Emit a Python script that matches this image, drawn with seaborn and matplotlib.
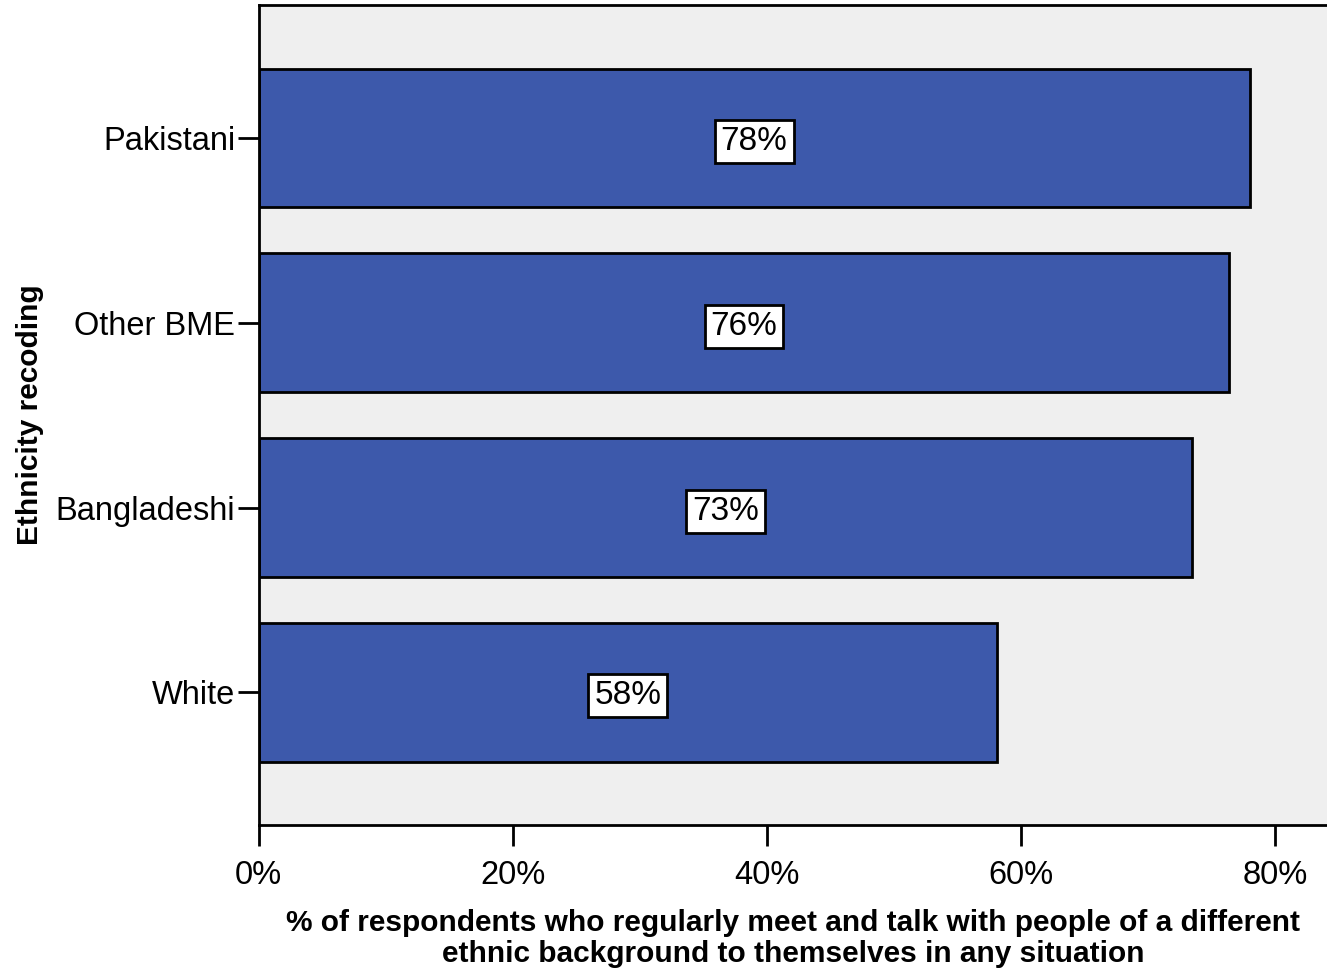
import pandas as pd
import seaborn as sns
import matplotlib.pyplot as plt

groups = ["Pakistani", "Other BME", "Bangladeshi", "White"]
pct = [78.0, 76.4, 73.5, 58.1]
bar_labels = ["78%", "76%", "73%", "58%"]
xticks = [0, 20, 40, 60, 80]

df = pd.DataFrame({"group": groups, "pct": pct})

sns.set_style("ticks")
plt.rcParams['font.family'] = ['Liberation Sans', 'DejaVu Sans']
plt.rcParams['text.color'] = 'black'
plt.rcParams['axes.labelcolor'] = 'black'

fig = plt.figure(figsize=(13.27, 9.71), dpi=100)
ax = fig.add_axes([0.195, 0.150, 0.805, 0.845])
ax.set_facecolor("#efefef")

sns.barplot(data=df, y="group", x="pct", orient="h", color="#3d59ab",
            saturation=1, width=0.75, edgecolor="black", linewidth=2, ax=ax)

for i, (v, lab) in enumerate(zip(pct, bar_labels)):
    ax.text(v / 2, i + 0.02, lab, ha="center", va="center", fontsize=24, color="black",
            bbox=dict(boxstyle="square,pad=0.18", fc="white", ec="black", lw=2))

ax.set_xlim(0, 84.1)
ax.set_ylim(3.72, -0.72)
ax.set_xticks(xticks)
ax.set_xticklabels([f"{t}%" for t in xticks], fontsize=23.5)
ax.tick_params(axis="y", labelsize=23.5)
ax.tick_params(length=15, width=2, direction="out", pad=10, colors="black")
ax.tick_params(axis="y", pad=2)

for s in ["left", "bottom", "top"]:
    ax.spines[s].set_linewidth(2)
    ax.spines[s].set_color("black")
ax.spines["right"].set_visible(False)

ax.set_ylabel("Ethnicity recoding", fontsize=21.5, fontweight="bold")
ax.yaxis.set_label_coords(-0.201, 0.5)
ax.set_xlabel("% of respondents who regularly meet and talk with people of a different\n"
              "ethnic background to themselves in any situation",
              fontsize=21.5, fontweight="bold", labelpad=13, linespacing=1.15)

fig.savefig("out.png", dpi=100)
